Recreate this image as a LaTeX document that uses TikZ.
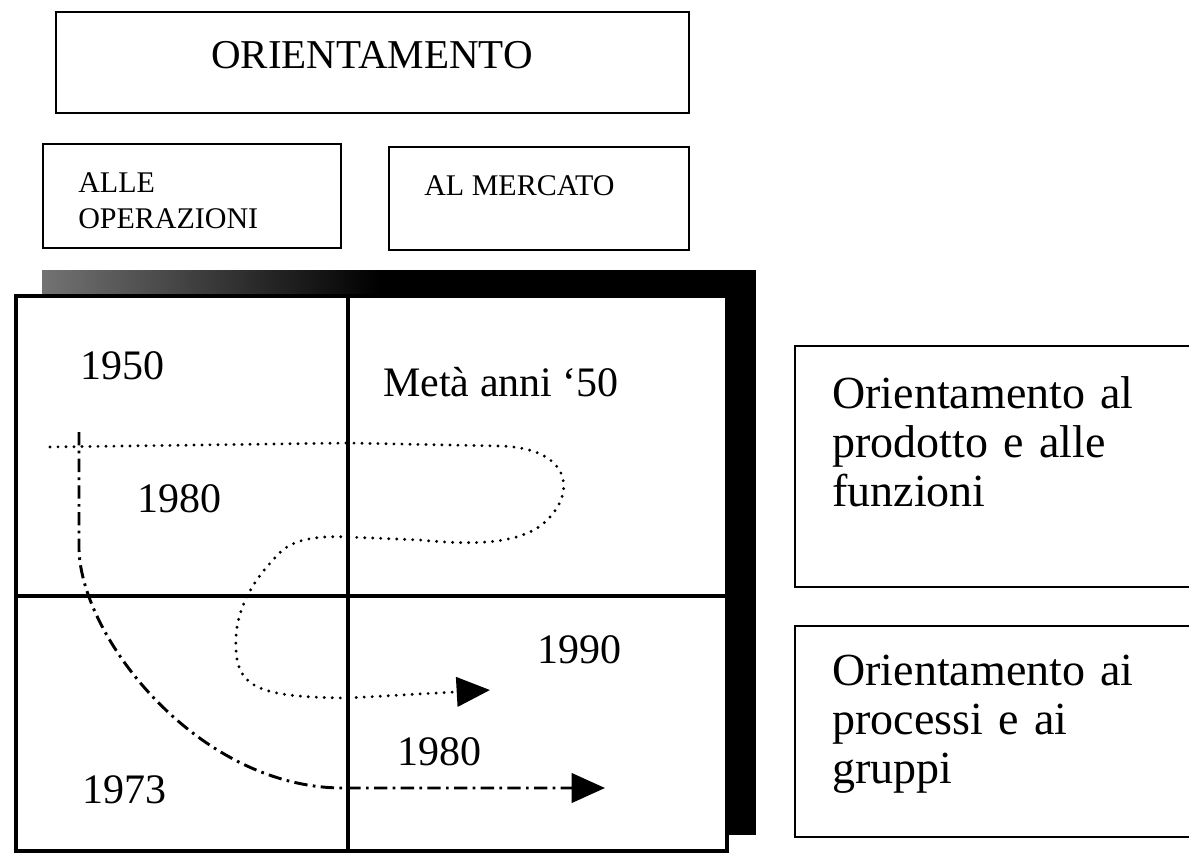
\documentclass[tikz,border=0pt]{standalone}
\usepackage{fontspec}
\setmainfont{Liberation Serif}
\usetikzlibrary{arrows.meta,fit}
\begin{document}
\begin{tikzpicture}[x=0.75pt,y=-0.75pt,
  boxst/.style={draw, line width=2pt, inner sep=0pt},
  lab/.style={inner sep=0pt, anchor=base west, font=\fontsize{31.5}{36}\selectfont},
  small/.style={inner sep=0pt, anchor=base west, font=\fontsize{22.5}{27}\selectfont},
  big/.style={inner sep=0pt, anchor=base west, text width=300pt, align=left, font=\fontsize{34.5}{36.75}\selectfont},
  dotline/.style={line width=2.4pt, line cap=round, dash pattern=on 0pt off 6pt},
  dashdot/.style={line width=2.2pt, dash pattern=on 10pt off 4pt on 2pt off 4pt},
  tiptri/.style={-{Triangle[length=25pt,width=22pt]}},
  gridline/.style={line width=2.4pt}
]
\useasboundingbox (0,0) rectangle (1189,857);
\fill[white] (0,0) rectangle (1189,857);

% header boxes
\node[boxst, fit={(56,12) (689,113)}] (ttl) {};
\node[inner sep=0pt, anchor=base, font=\fontsize{30.75}{36}\selectfont] (ttltext) at (372,68) {ORIENTAMENTO};
\node[boxst, fit={(43,144) (341,248)}] (ops) {};
\node[small, text width=200pt, align=left] (opstext) at (78,192) {ALLE\\OPERAZIONI};
\node[boxst, fit={(389,147) (689,250)}] (mkt) {};
\node[small] (mkttext) at (424,195) {AL MERCATO};

% shadow bar
\fill[black] (42,270) rectangle (756,297);
\shade[left color=black!55, right color=black] (42,270) rectangle (380,297);
\fill[black] (727,270) rectangle (756,835);

% grid
\node[draw, gridline, inner sep=0pt, fit={(16,296) (727,851)}] (grid) {};
\draw[gridline] (348,296) -- (348,851);
\draw[gridline] (16,596) -- (727,596);

% right boxes
\node[boxst, fit={(795,346) (1200,587)}] (rb1) {};
\node[big] (rt1) at (832,408) {Orientamento al\\prodotto e alle\\funzioni};
\node[boxst, fit={(795,626) (1200,837)}] (rb2) {};
\node[big] (rt2) at (832,685) {Orientamento ai\\processi e ai\\gruppi};

% labels
\node[lab] (t1950) at (80,379) {1950};
\node[lab] (tmeta) at (383,396) {Metà anni ‘50};
\node[lab] (t1980a) at (137,512) {1980};
\node[lab] (t1990) at (537,663) {1990};
\node[lab] (t1980b) at (397,765) {1980};
\node[lab] (t1973) at (82,803) {1973};

% paths
\coordinate (ddstart) at (79,432);
\coordinate (ddend) at (605,788);
\coordinate (dotstart) at (50,447);
\coordinate (dotend) at (490,690);
\draw[dashdot, tiptri] (ddstart) -- (79,550) .. controls (82,640) and (200,788) .. (343,788) -- (ddend);
\draw[dotline, tiptri] (dotstart) -- (348,443) -- (500,446)
  .. controls (570,448) and (578,492) .. (545,522)
  .. controls (520,545) and (470,545) .. (420,540) -- (348,537)
  .. controls (300,535) and (285,545) .. (273,560)
  .. controls (245,590) and (234,620) .. (236,650)
  .. controls (238,690) and (265,697) .. (348,698) -- (dotend);
\end{tikzpicture}
\end{document}
